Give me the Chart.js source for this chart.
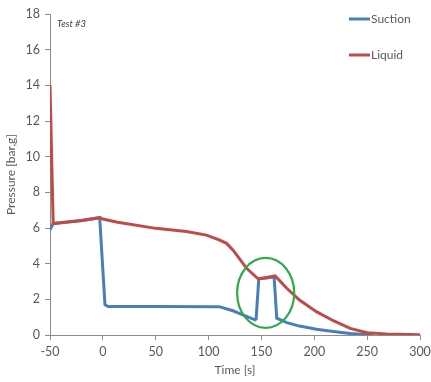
<!DOCTYPE html>
<html>
<head>
<meta charset="utf-8">
<script src="https://cdn.jsdelivr.net/npm/chart.js@4/dist/chart.umd.min.js"></script>
<style>
  html, body { margin: 0; padding: 0; background: #fff; }
  #wrap { width: 431px; height: 382px; }
</style>
</head>
<body>
<div id="wrap"><canvas id="myChart" width="431" height="382"></canvas></div>
<script>
'use strict';

// time [s] / pressure [bar,g]
let suctionTime = [-50, -47, -20, -3, 2, 5, 50, 110, 123, 133, 144, 145, 147.5, 155, 162, 164.5, 174, 186, 202, 218, 234, 250, 256];
let suctionPressure = [5.9, 6.25, 6.42, 6.58, 1.7, 1.6, 1.6, 1.59, 1.36, 1.12, 0.85, 0.9, 3.16, 3.2, 3.26, 0.94, 0.69, 0.5, 0.32, 0.2, 0.08, 0.02, 0.0];

let liquidTime = [-50, -47, -20, -3, 0, 14, 50, 79, 98, 110, 117, 123, 136, 147, 163, 174, 186, 202, 218, 234, 250, 268, 300];
let liquidPressure = [14, 6.25, 6.42, 6.58, 6.5, 6.32, 5.98, 5.8, 5.6, 5.33, 5.14, 4.77, 3.74, 3.14, 3.31, 2.62, 1.96, 1.31, 0.8, 0.37, 0.13, 0.06, 0.02];

let seriesNames = ['Suction', 'Liquid'];
let seriesColors = ['#4A7EBB', '#BE4B48'];

let xTicks = [-50, 0, 50, 100, 150, 200, 250, 300];
let yTicks = [0, 2, 4, 6, 8, 10, 12, 14, 16, 18];

// highlighted region (data units)
let circleCenter = [154, 2.36];
let circleRadius = [27, 1.96];

let chartEl = document.getElementById('myChart');
let ctx = chartEl.getContext('2d');

function toPoints(xs, ys) {
  let pts = [];
  for (let i = 0; i < xs.length; i++) {
    pts.push({ x: xs[i], y: ys[i] });
  }
  return pts;
}

let textColor = '#595959';
let axisColor = '#8c8c8c';
let fontFamily = 'Lato, "Open Sans", sans-serif';

let extras = {
  id: 'extras',
  afterDatasetsDraw(chart) {
    let c = chart.ctx;
    let xs = chart.scales.x;
    let ys = chart.scales.y;

    // green ellipse
    let cx = xs.getPixelForValue(circleCenter[0]);
    let cy = ys.getPixelForValue(circleCenter[1]);
    let rx = xs.getPixelForValue(circleCenter[0] + circleRadius[0]) - cx;
    let ry = cy - ys.getPixelForValue(circleCenter[1] + circleRadius[1]);
    c.save();
    c.strokeStyle = '#2EAA4A';
    c.lineWidth = 2.2;
    c.beginPath();
    c.ellipse(cx, cy, rx, ry, 0, 0, Math.PI * 2);
    c.stroke();

    // test label
    c.fillStyle = '#404040';
    c.font = 'italic 9.5px ' + fontFamily;
    c.textBaseline = 'middle';
    c.textAlign = 'left';
    c.fillText('Test #3', 57, 24);

    // legend
    let ds = chart.data.datasets;
    for (let i = 0; i < ds.length; i++) {
      let y = 19 + i * 36;
      c.strokeStyle = ds[i].borderColor;
      c.lineWidth = 3;
      c.beginPath();
      c.moveTo(349, y);
      c.lineTo(370, y);
      c.stroke();
      c.fillStyle = textColor;
      c.font = '12px ' + fontFamily;
      c.fillText(ds[i].label, 371, y);
    }
    c.restore();
  }
};

new Chart(ctx, {
  type: 'scatter',
  data: {
    datasets: [{
      label: seriesNames[0],
      data: toPoints(suctionTime, suctionPressure),
      borderColor: seriesColors[0],
      backgroundColor: seriesColors[0],
      showLine: true,
      borderWidth: 3,
      pointRadius: 0,
      tension: 0,
      order: 1
    }, {
      label: seriesNames[1],
      data: toPoints(liquidTime, liquidPressure),
      borderColor: seriesColors[1],
      backgroundColor: seriesColors[1],
      showLine: true,
      borderWidth: 3,
      pointRadius: 0,
      tension: 0,
      order: 0
    }]
  },
  options: {
    responsive: false,
    animation: false,
    layout: { padding: { top: 14, right: 11, left: 0, bottom: 0 } },
    plugins: {
      legend: { display: false },
      tooltip: { enabled: false }
    },
    scales: {
      x: {
        type: 'linear',
        min: xTicks[0],
        max: xTicks[xTicks.length - 1],
        afterBuildTicks(scale) {
          scale.ticks = xTicks.map(v => ({ value: v }));
        },
        afterFit(scale) {
          scale.height = 47;
          scale.paddingRight = 0;
          scale.paddingLeft = 0;
        },
        grid: { drawOnChartArea: false, drawTicks: true, tickLength: 5, color: axisColor },
        border: { color: axisColor, width: 1 },
        ticks: { color: textColor, font: { family: fontFamily, size: 12.5 }, padding: 4, maxRotation: 0 },
        title: { display: true, text: 'Time [s]', color: textColor, font: { family: fontFamily, size: 12 }, padding: { top: 0, bottom: 5 } }
      },
      y: {
        type: 'linear',
        min: yTicks[0],
        max: yTicks[yTicks.length - 1],
        afterBuildTicks(scale) {
          scale.ticks = yTicks.map(v => ({ value: v }));
        },
        afterFit(scale) {
          scale.width = 50;
          scale.paddingTop = 0;
          scale.paddingBottom = 0;
        },
        grid: { drawOnChartArea: false, drawTicks: true, tickLength: 5, color: axisColor },
        border: { color: axisColor, width: 1 },
        ticks: { color: textColor, font: { family: fontFamily, size: 12.5 }, padding: 5 },
        title: { display: true, text: 'Pressure [bar,g]', color: textColor, font: { family: fontFamily, size: 12 }, padding: { top: 4, bottom: 0 } }
      }
    }
  },
  plugins: [extras]
});
</script>
</body>
</html>
